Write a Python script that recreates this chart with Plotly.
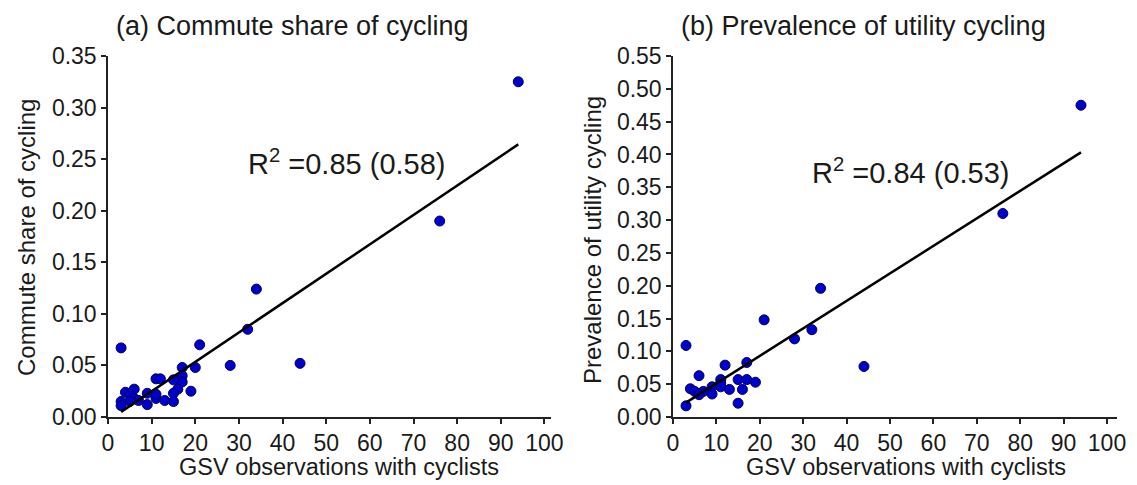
import plotly.graph_objects as go
import numpy as np

# ---- data ----
gsv_a = [94, 76, 34, 32, 44, 28, 21, 20, 3, 17, 17, 17, 16, 15, 15, 19, 15,
         11, 12, 11, 13, 9, 9, 6, 4, 5, 6, 7, 5, 3, 3, 11]
commute_share = [0.325, 0.190, 0.124, 0.085, 0.052, 0.050, 0.070, 0.048, 0.067,
                 0.048, 0.040, 0.034, 0.027, 0.023, 0.015, 0.025, 0.036,
                 0.037, 0.037, 0.018, 0.016, 0.023, 0.012, 0.027, 0.024, 0.022,
                 0.018, 0.016, 0.015, 0.015, 0.011, 0.022]

gsv_b = [94, 76, 34, 32, 28, 21, 44, 3, 3, 12, 17, 6, 11, 15, 17, 19, 11, 11,
         13, 16, 15, 9, 9, 4, 5, 7, 6]
utility_prev = [0.475, 0.310, 0.196, 0.133, 0.119, 0.148, 0.077, 0.109, 0.017,
                0.079, 0.083, 0.063, 0.057, 0.057, 0.057, 0.053, 0.051, 0.046,
                0.042, 0.042, 0.021, 0.046, 0.035, 0.043, 0.039, 0.039, 0.034]

# regression lines
fit_x = [3, 94]
fit_a = (0.00285, -0.0036)   # slope, intercept
fit_b = (0.00419, 0.0093)

r2_a = "R<sup>2</sup> =0.85 (0.58)"
r2_b = "R<sup>2</sup> =0.84 (0.53)"
title_a = "(a) Commute share of cycling"
title_b = "(b) Prevalence of utility cycling"
ytitle_a = "Commute share of cycling"
ytitle_b = "Prevalence of utility cycling"
xtitle = "GSV observations with cyclists"

W, H = 1137, 485
FONT = "Liberation Sans, Arial, sans-serif"
TXT = "#1a1a1a"

def px(x):
    return x / W

def py(y):
    return 1 - y / H

fig = go.Figure()

marker = dict(color="rgb(0,0,205)", size=10, line=dict(color="rgb(0,0,90)", width=1))

fig.add_trace(go.Scatter(x=gsv_a, y=commute_share, mode="markers", marker=marker,
                         xaxis="x", yaxis="y", showlegend=False))
fx = np.array(fit_x, dtype=float)
fig.add_trace(go.Scatter(x=fx, y=fit_a[0] * fx + fit_a[1], mode="lines",
                         line=dict(color="black", width=2.5),
                         xaxis="x", yaxis="y", showlegend=False))

fig.add_trace(go.Scatter(x=gsv_b, y=utility_prev, mode="markers", marker=marker,
                         xaxis="x2", yaxis="y2", showlegend=False))
fig.add_trace(go.Scatter(x=fx, y=fit_b[0] * fx + fit_b[1], mode="lines",
                         line=dict(color="black", width=2.5),
                         xaxis="x2", yaxis="y2", showlegend=False))

axis_common = dict(showgrid=False, zeroline=False, showline=True, linecolor="#222",
                   linewidth=1.5, ticks="outside", ticklen=5, tickwidth=1.5,
                   tickcolor="#222", automargin=False,
                   tickfont=dict(size=23, color=TXT, family=FONT))

ydom = [py(417), py(56)]
fig.update_layout(
    width=W, height=H,
    margin=dict(l=0, r=0, t=0, b=0, pad=0, autoexpand=False),
    paper_bgcolor="white", plot_bgcolor="white",
    font=dict(family=FONT, color=TXT),
    xaxis=dict(domain=[px(108), px(551)], range=[0, 101.5], tickvals=list(range(0, 101, 10)),
               anchor="y", **axis_common),
    yaxis=dict(domain=ydom, range=[0, 0.35], tickvals=[i * 0.05 for i in range(8)],
               tickformat=".2f", anchor="x", **axis_common),
    xaxis2=dict(domain=[px(673), px(1117)], range=[0, 102.3], tickvals=list(range(0, 101, 10)),
                anchor="y2", **axis_common),
    yaxis2=dict(domain=ydom, range=[0, 0.55], tickvals=[i * 0.05 for i in range(12)],
                tickformat=".2f", anchor="x2", **axis_common),
)

def note(text, x, y, size, xref="paper", yref="paper", angle=0):
    if xref == "paper":
        x = px(x)
        y = py(y)
    return dict(text=text, x=x, y=y, xref=xref, yref=yref, xanchor="center",
                yanchor="middle", textangle=angle, showarrow=False,
                font=dict(size=size, color=TXT, family=FONT))

ann = [
    note(title_a, 292, 26, 27),
    note(title_b, 863, 26, 27),
    note(ytitle_a, 26, 238, 24, angle=-90),
    note(ytitle_b, 592, 240, 24, angle=-90),
    note(xtitle, 339, 467, 23.5),
    note(xtitle, 906, 467, 23.5),
    note(r2_a, 54.6, 0.247, 29, xref="x", yref="y"),
    note(r2_b, 54.8, 0.375, 29, xref="x2", yref="y2"),
]
fig.update_layout(annotations=ann)

fig.write_html("out.html", config={"displayModeBar": False},
               post_script="document.body.style.margin='0';document.body.style.overflow='hidden';")
